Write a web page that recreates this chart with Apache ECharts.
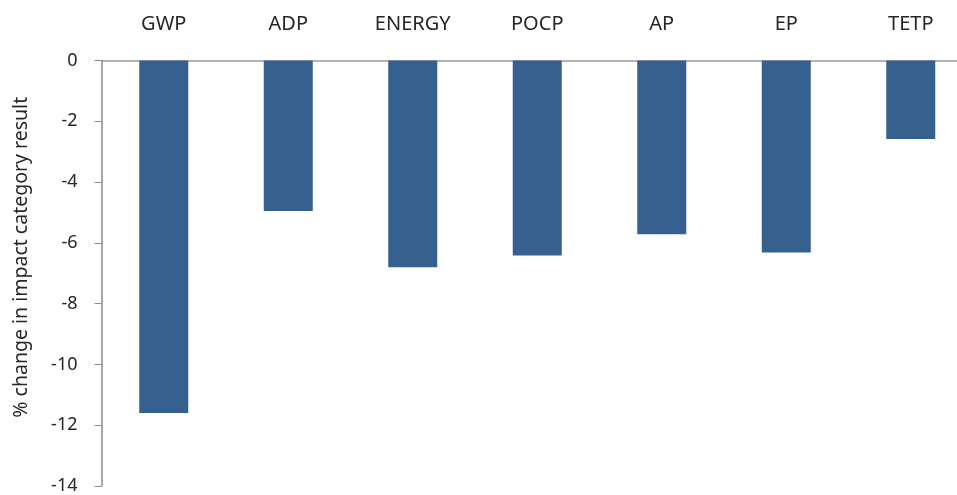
<!DOCTYPE html>
<html>
<head>
<meta charset="utf-8">
<script src="https://cdn.jsdelivr.net/npm/echarts@6/dist/echarts.min.js"></script>
<style>
  html, body { margin: 0; padding: 0; background: #fff; overflow: hidden; }
  #chart { width: 980px; height: 495px; }
</style>
</head>
<body>
<div id="chart"></div>
<script>
// Impact categories and their % change
const categories = ['GWP', 'ADP', 'ENERGY', 'POCP', 'AP', 'EP', 'TETP'];
const changeValues = [-11.6, -4.95, -6.8, -6.42, -5.72, -6.32, -2.58];
const yTicks = { min: -14, max: 0, interval: 2 };
const yTitle = '% change in impact category result';

const FONT = '"Noto Sans", sans-serif';
const chart = echarts.init(document.getElementById('chart'), null, { renderer: 'canvas' });

chart.setOption({
  animation: false,
  backgroundColor: '#ffffff',
  // the plot runs a little past the right edge of the page
  grid: { left: 101.5, top: 60.5, width: 871.5, height: 427, containLabel: false },
  xAxis: {
    type: 'category',
    position: 'top',
    data: categories,
    axisLine: { show: true, lineStyle: { color: '#9a9a9a', width: 1.5 } },
    axisTick: { show: false },
    axisLabel: { color: '#262626', fontFamily: FONT, fontSize: 20, margin: 26 },
    splitLine: { show: false }
  },
  yAxis: {
    type: 'value',
    min: yTicks.min,
    max: yTicks.max,
    interval: yTicks.interval,
    name: yTitle,
    nameLocation: 'middle',
    nameGap: 70,
    nameTextStyle: { color: '#262626', fontFamily: FONT, fontSize: 19.5, padding: [0, 0, 0, 32] },
    axisLine: { show: true, onZero: false, lineStyle: { color: '#8a8a8a', width: 1.5 } },
    axisTick: { show: true, inside: false, length: 7, lineStyle: { color: '#8a8a8a' } },
    axisLabel: { color: '#262626', fontFamily: FONT, fontSize: 18, margin: 24 },
    splitLine: { show: false }
  },
  series: [{
    type: 'bar',
    data: changeValues,
    barWidth: 49,
    itemStyle: { color: '#36618f' }
  }]
});
</script>
</body>
</html>
